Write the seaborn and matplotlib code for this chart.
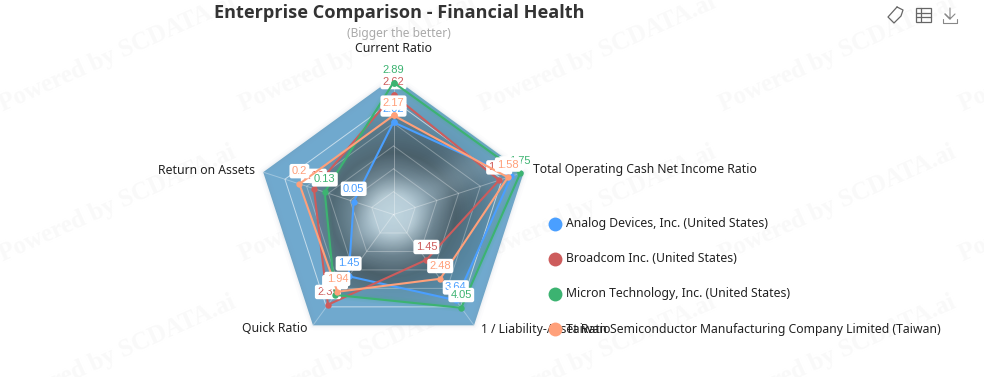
import numpy as np
import pandas as pd
import matplotlib
matplotlib.use("Agg")
import matplotlib.pyplot as plt
from matplotlib.patches import Polygon, Rectangle
import seaborn as sns

# ---- data -------------------------------------------------------------
indicators = ["Current Ratio", "Total Operating Cash Net Income Ratio",
              "1 / Liability-Asset Ratio", "Quick Ratio", "Return on Assets"]
axis_min = [0, 0, -1, -0.5, -0.06]
axis_max = [3, 1.8, 5, 3, 0.3]
companies = ["Analog Devices, Inc. (United States)",
             "Broadcom Inc. (United States)",
             "Micron Technology, Inc. (United States)",
             "Taiwan Semiconductor Manufacturing Company Limited (Taiwan)"]
analog = [2.02, 1.63, 3.64, 1.45, 0.05]
broadcom = [2.62, 1.46, 1.45, 2.35, 0.16]
micron = [2.89, 1.75, 4.05, 2.04, 0.13]
tsmc = [2.17, 1.58, 2.48, 1.94, 0.2]
colors = ["#4A9FFF", "#CD5C5C", "#3CB371", "#FFA07A"]
title = "Enterprise Comparison - Financial Health"
subtitle = "(Bigger the better)"
series = [analog, broadcom, micron, tsmc]

# ---- layout -----------------------------------------------------------
W, H = 984, 377
CX, CY, R = 393.5, 214.5, 137
sns.set_style("white")
plt.rcParams["font.family"] = ["Noto Sans", "DejaVu Sans"]
fig = plt.figure(figsize=(W / 100, H / 100), dpi=100)
bg = fig.add_axes([0, 0, 1, 1], zorder=0)
ax = fig.add_axes([(CX - R) / W, 1 - (CY + R) / H, 2 * R / W, 2 * R / H],
                  projection="polar", zorder=1)
top = fig.add_axes([0, 0, 1, 1], zorder=2)
for a in (bg, top):
    a.set_xlim(0, W)
    a.set_ylim(H, 0)
    a.axis("off")
top.patch.set_alpha(0)
ax.set_theta_zero_location("N")
ax.set_theta_direction(-1)
ax.set_ylim(0, 1)
ax.set_axis_off()
ax.patch.set_alpha(0)

n = len(indicators)
theta = np.arange(n) * 2 * np.pi / n
lo, hi = np.array(axis_min), np.array(axis_max)


def scale(vals):
    return (np.array(vals) - lo) / (hi - lo)


def ring(f):
    return np.r_[theta, theta[0]], np.r_[f, f[0]]


# watermark
for yy in (105, 255, 405):
    for xx in (0, 240, 480, 720, 960):
        bg.text(xx, yy, "Powered by SCDATA.ai", rotation=24, rotation_mode="anchor",
                family="Liberation Serif", weight="bold", fontsize=18,
                color="#F9F9F9", ha="left", va="center", zorder=0)

# soft shadow of the outer band
t_o, r_o = ring(np.ones(n))
for lw, al in ((7, .02), (4, .03), (2, .05)):
    ax.plot(t_o, r_o, color="#7090a0", lw=lw, alpha=al, clip_on=False, zorder=1, solid_joinstyle="round")

# outer band
bg.add_patch(Polygon(np.c_[theta, np.ones(n)], closed=True, transform=ax.transData,
                     facecolor="#70A9CE", edgecolor="none", zorder=1, clip_on=False))

# gradient fills of each series
yy, xx = np.mgrid[0:H, 0:W]
dx, dy = (xx + .5 - CX) / R, (yy + .5 - CY) / R
rad = np.hypot(dx, dy)
stops = [0, .14, .2, .3, .45, .65, .85, 1.0]
c_r = [235, 215, 165, 95, 48, 58, 78, 95]
c_g = [238, 220, 175, 110, 62, 78, 108, 135]
c_b = [238, 222, 182, 122, 72, 92, 128, 155]
alphas = [.22, .22, .24, .26, .27, .22, .15, .10]
tints = [(0.0, 0.03, 0.10), (0.08, -0.02, -0.04), (-0.02, 0.05, -0.02), (0.10, 0.02, -0.05)]
for vals, tint in zip(series, tints):
    img = np.zeros((H, W, 4))
    img[..., 0] = np.interp(rad, stops, c_r) / 255 + tint[0]
    img[..., 1] = np.interp(rad, stops, c_g) / 255 + tint[1]
    img[..., 2] = np.interp(rad, stops, c_b) / 255 + tint[2]
    img[..., 3] = np.interp(rad, stops, alphas)
    im = bg.imshow(np.clip(img, 0, 1), extent=(0, W, H, 0), aspect="auto", zorder=2, interpolation="nearest")
    im.set_clip_path(Polygon(np.c_[theta, scale(vals)], closed=True, transform=ax.transData))

# diagonal light band through the centre
perp = (dx * .5 + dy * .86)
band = np.zeros((H, W, 4))
band[..., :3] = (.72, .82, .88)
band[..., 3] = .34 * np.exp(-(perp / .14) ** 2) * np.exp(-(rad / 1.0) ** 2)
im = bg.imshow(band, extent=(0, W, H, 0), aspect="auto", zorder=3, interpolation="nearest")
im.set_clip_path(Polygon(np.c_[theta, scale(analog)], closed=True, transform=ax.transData))
bg.set_xlim(0, W)
bg.set_ylim(H, 0)

# radar grid
for lev in np.arange(1, 6) / 6:
    t_g, r_g = ring(np.full(n, lev))
    ax.plot(t_g, r_g, color="white", lw=.7, alpha=.3 if lev < .8 else .6, zorder=2)
for t in theta:
    ax.plot([t, t], [0, 1], color="white", lw=.7, alpha=.32, zorder=2)

# series lines through seaborn, value labels stacked series by series
for glow_w, glow_a in ((6, .06), (3.5, .08)):
    ax.plot(*ring(scale(micron)), color=colors[2], lw=glow_w, alpha=glow_a, zorder=2.5)
for k, (name, vals, col) in enumerate(zip(companies, series, colors)):
    t_s, r_s = ring(scale(vals))
    frame = pd.DataFrame({"theta": t_s, "r": r_s})
    sns.lineplot(data=frame, x="theta", y="r", estimator=None, sort=False, color=col,
                 linewidth=1.5, marker="o", markersize=4.6, markeredgewidth=0, legend=False,
                 ax=ax, zorder=3 + 2 * k, clip_on=False)
    for t, f, v in zip(theta, scale(vals), vals):
        ax.annotate(f"{v:g}", (t, f), xytext=(0, 9.2), textcoords="offset points", ha="center", va="center",
                    fontsize=8, family="Liberation Sans", color=col, zorder=4 + 2 * k, annotation_clip=False,
                    bbox=dict(boxstyle="round,pad=0.2", fc="white", ec="none"))
ax.set_ylim(0, 1)
ax.set_xlabel("")
ax.set_ylabel("")

# titles, axis names, legend
top.text(399, 12.5, title, ha="center", va="center", fontsize=13.1, weight="bold",
         family="Open Sans", color="#333333")
top.text(399, 33, subtitle, ha="center", va="center", fontsize=8.6, color="#AAAAAA")
txt = dict(fontsize=8.8, color="#222222", va="center")
top.text(393.5, 49, indicators[0], ha="center", **txt)
top.text(533, 170, indicators[1], ha="left", **txt)
top.text(481, 329, indicators[2], ha="left", **txt)
top.text(307, 328, indicators[3], ha="right", **txt)
top.text(255, 170, indicators[4], ha="right", **txt)
for name, col, yy_l in zip(companies, colors, (223.5, 259, 294, 329)):
    top.scatter([554.5], [yy_l], s=100, color=col, linewidths=0, zorder=4)
    top.text(566.5, yy_l, name, ha="left", zorder=5, **txt)

# toolbox icons
ic = dict(color="#666666", lw=.9)
tag = np.array([[1, -8], [7, -5], [5, 1], [-2, 8], [-8, 2], [1, -8]]) + [896, 15]
top.plot(tag[:, 0], tag[:, 1], **ic)
top.add_patch(Rectangle((915.5, 8), 15.5, 14, fill=False, ec="#666666", lw=.9))
for yl in (12.5, 17):
    top.plot([915.5, 931], [yl, yl], **ic)
top.plot([920.5, 920.5], [8, 22], **ic)
ic2 = dict(color="#888888", lw=.8)
top.plot([950, 950, 945, 950, 955], [8, 19, 14, 19, 14], **ic2)
top.plot([943, 943, 957, 957], [19, 23, 23, 19], **ic2)
top.set_xlim(0, W)
top.set_ylim(H, 0)

fig.savefig("out.png", dpi=100)
